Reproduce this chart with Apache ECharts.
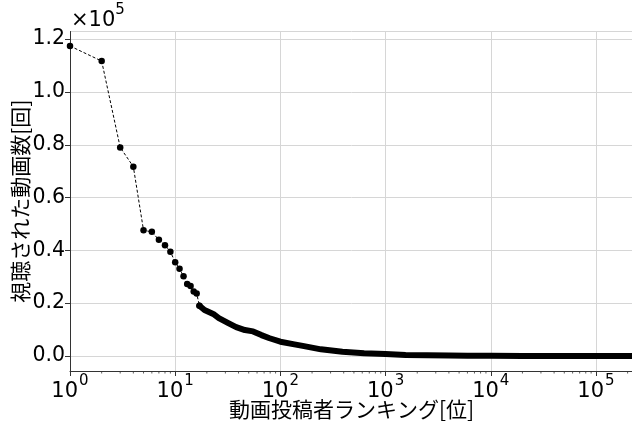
<!DOCTYPE html>
<html>
<head>
<meta charset="utf-8">
<script src="https://cdn.jsdelivr.net/npm/echarts@6/dist/echarts.min.js"></script>
<style>html,body{margin:0;padding:0;background:#fff}#c{width:632px;height:421px}</style>
</head>
<body>
<div id="c"></div>
<script>
// Top-ranked creators (individually visible markers)
const headRanks = [1,2,3,4,5,6,7,8,9,10,11,12,13,14,15,16,17];
const headValues = [117400,111700,79000,71700,47600,47000,44000,41900,39500,35500,33000,30200,27300,26500,24400,23700,19000];
// Long tail (dense markers, drawn as a thick band)
const tailRanks = [17,19,23,26,32,38,46,55,66,79,100,136,163,243,389,625,1000,1550,2470,4000,6000,10000,20000,50000,100000,225000];
const tailValues = [19000,17400,15900,14300,12400,10900,9800,9300,7900,6700,5400,4400,3800,2500,1600,1000,760,400,250,150,90,50,20,6,2,1];
// Axis settings
const xMin = 1, xMax = 225000;
const yMin = -5700, yMax = 122900;
const yTickLabels = ['0.0','0.2','0.4','0.6','0.8','1.0','1.2'];
const xMinorTicks = [];
for (let e = 0; e < 6; e++) for (let m = 2; m <= 9; m++) { const v = m * Math.pow(10, e); if (v < xMax) xMinorTicks.push(v); }

const NUM = 'DejaVu Sans';
const JP = 'Noto Sans CJK JP';
const FS = 20.5;
const chart = echarts.init(document.getElementById('c'), null, {renderer: 'canvas'});
const sup = {
  base: {fontFamily: NUM, fontSize: 21, color: '#000', padding: [7, 0, 0, 0]},
  sup: {fontFamily: NUM, fontSize: 15, color: '#000', verticalAlign: 'top', padding: [0, 0, 0, 1]}
};
chart.setOption({
  animation: false,
  backgroundColor: '#fff',
  grid: {left: 70, right: -1, top: 31.5, bottom: 50, containLabel: false, outerBoundsMode: 'none'},
  graphic: [{
    type: 'text', left: 71, top: 3,
    style: {
      text: '{a|×10}{b|5}',
      rich: {
        a: {fontFamily: NUM, fontSize: 21, fill: '#000', color: '#000', padding: [7, 0, 0, 0]},
        b: {fontFamily: NUM, fontSize: 15, fill: '#000', color: '#000', verticalAlign: 'top'}
      }
    }
  }],
  xAxis: {
    type: 'log', logBase: 10, min: xMin, max: xMax, splitNumber: 5,
    name: '動画投稿者ランキング[位]', nameLocation: 'middle', nameGap: 28, nameMoveOverlap: false,
    nameTextStyle: {fontFamily: JP, fontSize: 21, color: '#000'},
    axisLine: {show: true, onZero: false, lineStyle: {color: '#333', width: 1}},
    axisTick: {show: true, inside: false, length: 5, lineStyle: {color: '#333'}},
    axisLabel: {
      margin: 3, showMaxLabel: false,
      formatter: v => '{base|10}{sup|' + Math.round(Math.log10(v)) + '}',
      rich: sup
    },
    splitLine: {show: true, lineStyle: {color: '#d6d6d6', width: 1}}
  },
  yAxis: {
    type: 'value', min: yMin, max: yMax, splitNumber: 6,
    name: '視聴された動画数[回]', nameLocation: 'middle', nameGap: 39, nameRotate: 90, nameMoveOverlap: false,
    nameTextStyle: {fontFamily: JP, fontSize: 21, color: '#000'},
    axisLine: {show: true, onZero: false, lineStyle: {color: '#333', width: 1}},
    axisTick: {show: true, inside: false, length: 5, lineStyle: {color: '#333'}},
    axisLabel: {
      margin: 5, showMinLabel: false, showMaxLabel: false,
      fontFamily: NUM, fontSize: FS, color: '#000',
      formatter: v => { const i = Math.round(v / 20000); return (Math.abs(v - i * 20000) < 1 && yTickLabels[i]) ? yTickLabels[i] : ''; }
    },
    splitLine: {show: true, lineStyle: {color: '#d6d6d6', width: 1}}
  },
  series: [
    {
      type: 'line', data: headRanks.map((r, i) => [r, headValues[i]]),
      symbol: 'circle', symbolSize: 6.5, showSymbol: true,
      itemStyle: {color: '#000'},
      lineStyle: {color: '#000', width: 1, type: [3, 2]},
      z: 3
    },
    {
      type: 'line', data: tailRanks.map((r, i) => [r, tailValues[i]]),
      symbol: 'none', smooth: false,
      lineStyle: {color: '#000', width: 6, cap: 'round', join: 'round'},
      z: 3
    },
    {
      type: 'custom', data: xMinorTicks.map(v => [v, yMin]), clip: false, silent: true,
      renderItem: (params, api) => {
        const p = api.coord([api.value(0), api.value(1)]);
        return {type: 'line', shape: {x1: p[0], y1: p[1], x2: p[0], y2: p[1] + 2.5}, style: {stroke: '#333', lineWidth: 0.8}};
      },
      z: 2
    }
  ]
});
</script>
</body>
</html>
